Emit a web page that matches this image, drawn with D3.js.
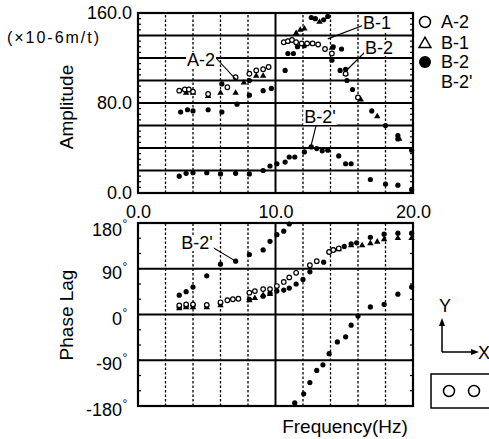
<!DOCTYPE html>
<html><head><meta charset="utf-8">
<script src="https://cdn.jsdelivr.net/npm/d3@7"></script>
<style>body{margin:0;background:#fff}svg{display:block;font-family:"Liberation Sans",Arial,sans-serif}</style>
</head><body><svg id="c" width="489" height="439"></svg>
<script>
// ---------- data ----------
const freqTicks = [0, 10, 20];
const ampTicks = [0, 80, 160];
const phaseTicks = [-180, -90, 0, 90, 180];
const freqGrid = [2, 4, 6, 8, 10, 12, 14, 16, 18];
const ampGrid = [20, 40, 60, 80, 100, 120, 140];
const phaseGrid = [-90, 0, 90];

const a2Amp = [[3.0,91],[3.4,92],[3.7,92],[4.0,90],[5.1,88],[6.5,94],[7.1,103],[8.1,106],[8.6,109],[9.1,110],[9.5,112],
  [10.6,134],[10.9,135],[11.2,136],[11.5,134],[11.9,133],[12.3,133],[12.7,133],[13.1,132],[13.6,128],[14.1,124],[15.1,106],[16.0,85]];
const b1Amp = [[3.5,89],[4.0,89],[5.1,86],[6.0,89],[7.1,89],[7.7,98],[8.6,104],[9.1,104],[11.5,142],[11.8,145],[12.1,146],
  [13.2,152],[14.1,129],[15.1,106],[16.2,83],[17.4,68],[19.0,48]];
const b2Amp = [[3.1,72],[3.6,74],[4.0,73],[5.1,74],[6.1,72],[6.1,97],[7.2,79],[8.1,100],[8.1,87],[9.1,91],[9.7,93],[10.7,109],
  [10.9,124],[11.3,124],[11.6,130],[12.1,131],[12.6,156],[12.9,155],[13.5,154],[13.8,157],[14.1,118],[14.2,130],[14.8,128],
  [14.7,109],[15.1,110],[15.2,100],[15.6,92],[16.0,85],[17.0,73],[18.0,60],[18.9,51],[18.9,48],[19.9,38]];
const b2pAmp = [[3.0,15],[3.5,17.5],[4.0,18],[5.0,18],[6.0,17],[7.1,17.5],[8.1,17],[9.1,20],[9.6,24],[10.1,26],[10.7,27.5],
  [11.0,32],[11.4,32],[12.1,36.5],[12.6,41],[13.0,39.5],[13.4,37.5],[13.8,38],[14.6,33],[15.1,26],[15.5,26],[16.9,12],
  [18.0,8],[18.9,7],[19.9,3]];

const a2Phase = [[3.0,18],[3.5,20],[4.0,20],[5.0,19],[6.0,24],[6.5,28],[6.9,30],[7.3,31],[8.1,43],[8.5,46],[9.1,50],[9.6,50],
  [10.1,56],[10.6,64],[11.0,73],[11.5,82],[12.5,97],[13.0,105],[13.9,123],[14.2,127],[14.6,130]];
const b1Phase = [[3.0,12],[3.5,14],[4.0,14],[5.0,14],[6.0,18],[8.1,28],[8.5,32],[9.1,38],[9.6,40],[14.6,128],[15.5,136],
  [16.3,136],[16.9,140],[17.4,143],[17.9,148],[18.9,150],[19.9,150]];
const b2Phase = [[3.0,14],[3.5,16],[4.0,17],[5.0,17],[6.0,22],[8.1,30],[9.1,36],[9.6,42],[10.1,46],[10.6,48],[11.0,52],
  [11.5,60],[12.0,69],[12.5,84],[13.5,103],[13.9,123],[14.2,127],[15.0,134],[15.5,139],[15.9,141],[16.9,152],[17.9,158],
  [18.9,160],[19.9,160]];
const b2pPhase = [[3.0,38],[3.5,45],[4.0,54],[5.0,76],[6.0,99],[7.1,105],[8.1,118],[9.1,127],[9.6,144],[10.1,157],[10.6,164],
  [11.0,178],[11.4,-174],[12.05,-156],[12.5,-134],[13.0,-110],[13.45,-99],[13.9,-77],[14.5,-54],[15.1,-44],[15.5,-21],
  [16.0,-3],[16.9,15],[17.9,20],[18.9,40],[19.9,54]];

const legendLabels = ["A-2", "B-1", "B-2", "B-2'"];

// ---------- scales ----------
const svg = d3.select("#c");
const x = d3.scaleLinear().domain([0, 20]).range([138, 413]);
const yA = d3.scaleLinear().domain([0, 160]).range([193, 13]);
const yP = d3.scaleLinear().domain([-180, 180]).range([406, 223]);

function panel(y, grid, minorStep) {
  const g = svg.append("g");
  const [y0, y1] = y.range();
  freqGrid.forEach(f => {
    g.append("line").attr("x1", x(f)).attr("x2", x(f)).attr("y1", y0).attr("y2", y1)
      .attr("stroke", "#000").attr("stroke-width", f === 10 ? 2 : 1.3)
      .attr("stroke-dasharray", f === 10 ? null : "2.5,2");
  });
  grid.forEach(v => {
    g.append("line").attr("x1", x(0)).attr("x2", x(20)).attr("y1", y(v)).attr("y2", y(v))
      .attr("stroke", "#000").attr("stroke-width", 1.8);
  });
  const [d0, d1] = y.domain();
  d3.range(d0, d1 + 0.001, minorStep).forEach(v => {
    g.append("line").attr("x1", x(0)).attr("x2", x(0) + 3).attr("y1", y(v)).attr("y2", y(v)).attr("stroke", "#000").attr("stroke-width", 1.2);
    g.append("line").attr("x1", x(20) - 3).attr("x2", x(20)).attr("y1", y(v)).attr("y2", y(v)).attr("stroke", "#000").attr("stroke-width", 1.2);
  });
  g.append("rect").attr("x", x(0)).attr("y", y1).attr("width", x(20) - x(0)).attr("height", y0 - y1)
    .attr("fill", "none").attr("stroke", "#000").attr("stroke-width", 2.2);
}
panel(yA, ampGrid, 5);
panel(yP, phaseGrid, 30);

// ---------- markers ----------
function plot(data, y, kind) {
  const g = svg.append("g");
  if (kind === "open") {
    g.selectAll("circle").data(data).join("circle").attr("cx", d => x(d[0])).attr("cy", d => y(d[1]))
      .attr("r", 2.3).attr("fill", "#fff").attr("stroke", "#000").attr("stroke-width", 1.2);
  } else if (kind === "tri") {
    g.selectAll("path").data(data).join("path")
      .attr("transform", d => `translate(${x(d[0])},${y(d[1])})`)
      .attr("d", d3.symbol(d3.symbolTriangle, 18)).attr("fill", "#000");
  } else {
    g.selectAll("circle").data(data).join("circle").attr("cx", d => x(d[0])).attr("cy", d => y(d[1]))
      .attr("r", 2.6).attr("fill", "#000");
  }
}
plot(b2pAmp, yA, "fill");
plot(b2Amp, yA, "fill");
plot(b1Amp, yA, "tri");
plot(a2Amp, yA, "open");
plot(b2pPhase, yP, "fill");
plot(b2Phase, yP, "fill");
plot(b1Phase, yP, "tri");
plot(a2Phase, yP, "open");

// ---------- axes text ----------
const fs = "18px";
const ay = svg.append("g").attr("transform", `translate(${x(0)},0)`)
  .call(d3.axisLeft(yA).tickValues(ampTicks).tickFormat(d3.format(".1f")).tickSize(0).tickPadding(6));
ay.select(".domain").remove();
ay.selectAll("text").attr("font-size", fs).attr("font-family", "Liberation Sans").attr("fill", "#000");

const ax = svg.append("g").attr("transform", `translate(0,${yA(0)})`)
  .call(d3.axisBottom(x).tickValues(freqTicks).tickFormat(d3.format(".1f")).tickSize(0).tickPadding(12));
ax.select(".domain").remove();
ax.selectAll("text").attr("font-size", fs).attr("font-family", "Liberation Sans").attr("fill", "#000");

phaseTicks.forEach(v => {
  const yy = yP(v) + (v === 180 ? 7 : 4);
  svg.append("text").attr("x", 122).attr("y", yy).attr("text-anchor", "end").attr("dominant-baseline", "central")
    .attr("font-size", fs).text(v);
  svg.append("text").attr("x", 122.5).attr("y", yy - 6).attr("font-size", "12px").attr("dominant-baseline", "central").text("°");
});

svg.append("text").attr("transform", "translate(73,107) rotate(-90)").attr("text-anchor", "middle")
  .attr("font-size", "19px").text("Amplitude");
svg.append("text").attr("transform", "translate(73,315) rotate(-90)").attr("text-anchor", "middle")
  .attr("font-size", "19px").text("Phase Lag");
svg.append("text").attr("x", 7).attr("y", 37).attr("dominant-baseline", "central")
  .attr("font-size", "16px").attr("textLength", 92).attr("lengthAdjust", "spacing").text("(×10-6m/t)");
svg.append("text").attr("x", 345).attr("y", 426).attr("text-anchor", "middle").attr("dominant-baseline", "central")
  .attr("font-size", "19px").text("Frequency(Hz)");

// ---------- annotations ----------
function note(label, lx, ly, x1, y1, x2, y2) {
  svg.append("line").attr("x1", x1).attr("y1", y1).attr("x2", x2).attr("y2", y2).attr("stroke", "#000").attr("stroke-width", 1.1);
  const t = svg.append("text").attr("x", lx).attr("y", ly).attr("text-anchor", "middle").attr("dominant-baseline", "central")
    .attr("font-size", fs).text(label);
  const b = t.node().getBBox();
  svg.insert("rect", () => t.node()).attr("x", b.x - 1).attr("y", b.y + 2).attr("width", b.width + 2).attr("height", b.height - 4).attr("fill", "#fff");
}
note("A-2", 201, 60, 216, 58, x(7.1), yA(103) + 2);
note("B-1", 377, 23, 364, 25, x(13.8), yA(137));
note("B-2", 379, 48, 365, 52, x(15.1), yA(110) + 2);
note("B-2'", 320, 117, 316, 126, x(12.6), yA(41) - 2);
note("B-2'", 197, 243, 212, 247, x(7.1), yP(105));

// ---------- legend ----------
const lg = svg.append("g");
const ly = [22, 43, 62, 82];
lg.append("circle").attr("cx", 425).attr("cy", ly[0]).attr("r", 5.5).attr("fill", "#fff").attr("stroke", "#000").attr("stroke-width", 1.5);
lg.append("path").attr("transform", `translate(425,${ly[1] + 1})`).attr("d", d3.symbol(d3.symbolTriangle, 60))
  .attr("fill", "#fff").attr("stroke", "#000").attr("stroke-width", 1.5);
lg.append("circle").attr("cx", 425).attr("cy", ly[2]).attr("r", 6).attr("fill", "#000");
legendLabels.forEach((l, i) => {
  lg.append("text").attr("x", 441).attr("y", ly[i]).attr("dominant-baseline", "central").attr("font-size", fs).text(l);
});

// ---------- coordinate icon ----------
const ic = svg.append("g").attr("stroke", "#000").attr("stroke-width", 1.5).attr("fill", "none");
ic.append("path").attr("d", "M442,352 V323 M442,352 H475");
svg.append("path").attr("d", "M442,318 L439,326 L445,326 Z").attr("fill", "#000");
svg.append("path").attr("d", "M479,352 L471,349 L471,355 Z").attr("fill", "#000");
svg.append("text").attr("x", 445).attr("y", 306).attr("text-anchor", "middle").attr("dominant-baseline", "central").attr("font-size", "18px").text("Y");
svg.append("text").attr("x", 478).attr("y", 353).attr("dominant-baseline", "central").attr("font-size", "18px").text("X");
ic.append("rect").attr("x", 431).attr("y", 374).attr("width", 62).attr("height", 34);
ic.append("circle").attr("cx", 449).attr("cy", 391).attr("r", 5.5);
ic.append("circle").attr("cx", 474).attr("cy", 391).attr("r", 5.5);
</script></body></html>
